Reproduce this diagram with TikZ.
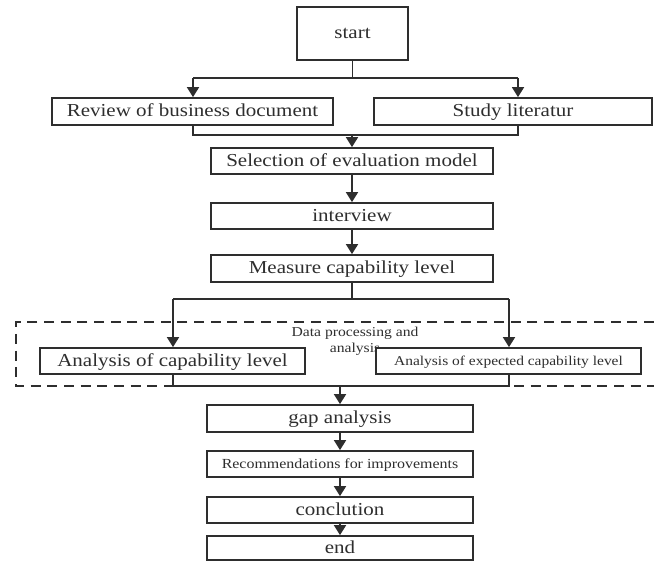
\documentclass[tikz,border=0pt]{standalone}
\usepackage{fontspec}
\setmainfont[FakeStretch=1.15]{Liberation Serif}
\usetikzlibrary{arrows.meta}
\definecolor{ink}{HTML}{2E2E2E}
\tikzset{
  box/.style={draw=ink, line width=1.3pt, fill=white, inner sep=0pt, text=ink,
    text height=11pt, text depth=2.8pt,
    minimum height=19.5pt, font=\fontsize{13.7}{14}\selectfont},
  smallbox/.style={box, text height=8.2pt, text depth=2.2pt},
  conn/.style={draw=ink, line width=1.3pt},
  arr/.style={conn, -{Triangle[length=7.5pt,width=9pt]}},
  grp/.style={draw=ink, line width=1.3pt, dash pattern=on 7.5pt off 5pt},
  smalltext/.style={text=ink, inner sep=0pt, align=center, font=\fontsize{10.2}{12}\selectfont}
}
\begin{document}
\begin{tikzpicture}[x=0.75pt, y=-0.75pt]
\useasboundingbox (0,0) rectangle (654,563);
% group
\draw[grp] (654,322) -- (16,322) -- (16,386) -- (654,386);
\node[smalltext] (grplabel) at (355,341) {Data processing and\\analysis};
% nodes
\node[box, minimum width=83.25pt, minimum height=39.75pt] (start) at (352.5,33.5) {start};
\node[box, minimum width=210.75pt, minimum height=20.25pt] (review) at (192.5,111.5) {Review of business document};
\node[box, minimum width=208.5pt, minimum height=20.25pt] (study) at (513,111.5) {Study literatur};
\node[box, minimum width=211.5pt] (sel) at (352,161) {Selection of evaluation model};
\node[box, minimum width=211.5pt] (int) at (352,216) {interview};
\node[box, minimum width=211.5pt, minimum height=20.25pt] (meas) at (352,268.5) {Measure capability level};
\node[box, minimum width=198.75pt] (ana) at (172.5,361) {Analysis of capability level};
\node[smallbox, minimum width=198.75pt, font=\fontsize{10.1}{12}\selectfont] (exp) at (508.5,361) {Analysis of expected capability level};
\node[box, minimum width=199.5pt, minimum height=20.25pt] (gap) at (340,418.5) {gap analysis};
\node[smallbox, minimum width=199.5pt, font=\fontsize{10.4}{12}\selectfont] (rec) at (340,464) {Recommendations for improvements};
\node[box, minimum width=199.5pt] (concl) at (340,510) {conclution};
\node[box, minimum width=199.5pt, minimum height=18pt] (end) at (340,548) {end};
% junction coordinates
\coordinate (j1l) at (193,78);
\coordinate (j1r) at (518,78);
\coordinate (m1l) at (193,135);
\coordinate (m1r) at (518,135);
\coordinate (j2l) at (173,299);
\coordinate (j2r) at (509,299);
\coordinate (m2l) at (173,386);
\coordinate (m2r) at (509,386);
% connectors
\draw[conn] (start.south) -- (start.south |- j1l);
\draw[conn] (j1l) -- (j1r);
\draw[arr] (j1l) -- (j1l |- review.north);
\draw[arr] (j1r) -- (j1r |- study.north);
\draw[conn] (m1l |- review.south) -- (m1l) -- (m1r) -- (m1r |- study.south);
\draw[arr] (sel.north |- m1l) -- (sel.north);
\draw[arr] (sel.south) -- (int.north);
\draw[arr] (int.south) -- (meas.north);
\draw[conn] (meas.south) -- (meas.south |- j2l);
\draw[conn] (j2l) -- (j2r);
\draw[arr] (j2l) -- (j2l |- ana.north);
\draw[arr] (j2r) -- (j2r |- exp.north);
\draw[conn] (m2l |- ana.south) -- (m2l) -- (m2r) -- (m2r |- exp.south);
\draw[arr] (gap.north |- m2l) -- (gap.north);
\draw[arr] (gap.south) -- (rec.north);
\draw[arr] (rec.south) -- (concl.north);
\draw[arr] (concl.south) -- (end.north);
\end{tikzpicture}
\end{document}
